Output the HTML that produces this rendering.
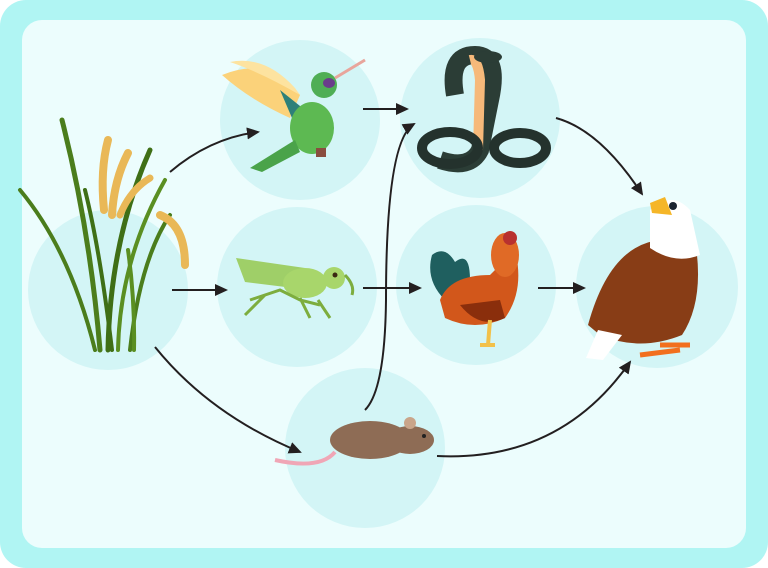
<!DOCTYPE html>
<html><head><meta charset="utf-8"><style>
html,body{margin:0;padding:0;background:#fff}
svg{display:block}
</style></head><body>
<svg width="768" height="568" viewBox="0 0 768 568" xmlns="http://www.w3.org/2000/svg">
<defs>
<marker id="ah" markerWidth="14" markerHeight="14" refX="11" refY="6" orient="auto" markerUnits="userSpaceOnUse">
<path d="M0,0 L13,6 L0,12 Z" fill="#231f20"/>
</marker>
</defs>
<rect x="0" y="0" width="768" height="568" rx="26" fill="#b0f5f3"/>
<rect x="22" y="20" width="724" height="528" rx="20" fill="#ecfdfd"/>
<g fill="#d3f5f6">
<circle cx="108" cy="290" r="80"/>
<circle cx="300" cy="120" r="80"/>
<circle cx="297" cy="287" r="80"/>
<circle cx="480" cy="118" r="80"/>
<circle cx="476" cy="285" r="80"/>
<circle cx="365" cy="448" r="80"/>
<circle cx="657" cy="287" r="81"/>
</g>
<!-- rice -->
<g stroke-linecap="round" fill="none">
<path d="M100,350 Q90,230 62,120" stroke="#4b7d1c" stroke-width="5"/>
<path d="M108,350 Q110,240 150,150" stroke="#3f6f16" stroke-width="5"/>
<path d="M118,350 Q120,260 165,180" stroke="#5a8f22" stroke-width="4"/>
<path d="M95,350 Q70,250 20,190" stroke="#4b7d1c" stroke-width="4"/>
<path d="M130,350 Q140,260 170,215" stroke="#4b7d1c" stroke-width="4"/>
<path d="M112,350 Q100,250 85,190" stroke="#3f6f16" stroke-width="4"/>
<path d="M134,350 Q135,300 128,250" stroke="#5a8f22" stroke-width="4"/>
<path d="M104,210 Q100,170 108,140" stroke="#e9b857" stroke-width="8"/>
<path d="M112,215 Q114,180 128,153" stroke="#e9b857" stroke-width="8"/>
<path d="M120,215 Q130,190 150,178" stroke="#e9b857" stroke-width="7"/>
<path d="M160,215 Q185,225 185,265" stroke="#e9b857" stroke-width="8"/>
</g>
<!-- hummingbird -->
<path d="M222,75 Q270,55 300,95 L290,118 Q250,100 222,75Z" fill="#fbd27a"/>
<path d="M230,62 Q265,55 295,88 L300,95 Q260,72 230,62Z" fill="#fde3a0"/>
<path d="M280,90 L305,110 L295,125 Z" fill="#2e8079"/>
<ellipse cx="312" cy="128" rx="22" ry="26" fill="#5db952"/>
<path d="M295,140 L250,168 L262,172 L300,152Z" fill="#4aa34a"/>
<circle cx="324" cy="85" r="13" fill="#4fae55"/>
<ellipse cx="329" cy="83" rx="6" ry="5" fill="#6a3c8b"/>
<path d="M335,78 L365,60" stroke="#e8a59c" stroke-width="3"/>
<rect x="316" y="148" width="10" height="9" fill="#8a4d3f"/>
<!-- grasshopper -->
<path d="M236,258 L305,268 L310,290 L245,282 Z" fill="#9fcf68"/>
<ellipse cx="305" cy="283" rx="22" ry="15" fill="#a8d66b"/>
<circle cx="334" cy="278" r="11" fill="#a8d66b"/>
<circle cx="335" cy="275" r="2.5" fill="#3a2a12"/>
<path d="M250,300 L280,290 L300,300 L320,305 M265,295 L245,315 M300,298 L310,318 M318,300 L330,318 M345,275 Q355,285 352,295" stroke="#7dad3e" stroke-width="3" fill="none"/>
<!-- snake -->
<path d="M455,95 Q448,55 475,55 Q500,55 490,100 L480,150 Q470,170 440,160" stroke="#2b3d36" stroke-width="18" fill="none"/>
<path d="M470,60 Q478,58 480,80 L478,150" stroke="#f6b97a" stroke-width="10" fill="none"/>
<ellipse cx="450" cy="148" rx="28" ry="16" fill="none" stroke="#24322d" stroke-width="10"/>
<ellipse cx="520" cy="148" rx="26" ry="15" fill="none" stroke="#24322d" stroke-width="10"/>
<ellipse cx="488" cy="57" rx="14" ry="6" fill="#2b3d36"/>
<!-- rooster -->
<path d="M445,300 Q425,280 432,255 Q445,245 455,262 Q470,250 470,280 Z" fill="#1f5f5f"/>
<path d="M440,300 Q450,275 490,275 L515,250 Q525,290 505,318 Q475,332 445,318Z" fill="#d2571b"/>
<path d="M460,305 Q480,330 505,318 L500,300Z" fill="#8a2e0c"/>
<ellipse cx="505" cy="255" rx="14" ry="22" fill="#e06a26"/>
<circle cx="510" cy="238" r="7" fill="#b8312f"/>
<path d="M490,320 L488,345 M495,345 L480,345" stroke="#f2c14a" stroke-width="4"/>
<!-- mouse -->
<ellipse cx="370" cy="440" rx="40" ry="19" fill="#8e6c55"/>
<ellipse cx="410" cy="440" rx="24" ry="14" fill="#8e6c55"/>
<circle cx="410" cy="423" r="6" fill="#c9a58a"/>
<circle cx="424" cy="436" r="2" fill="#222"/>
<path d="M335,452 Q320,470 275,460" stroke="#f0a6b6" stroke-width="4" fill="none"/>
<!-- eagle -->
<path d="M588,325 Q610,245 660,240 L695,240 Q705,300 682,335 Q640,352 600,335Z" fill="#883d16"/>
<path d="M598,330 L586,358 L603,360 L622,335Z" fill="#ffffff"/>
<path d="M650,210 Q672,190 690,210 L700,255 Q675,265 650,248Z" fill="#ffffff"/>
<path d="M650,203 L665,197 L672,215 L652,213Z" fill="#f5b628"/>
<circle cx="673" cy="206" r="4" fill="#1c2430"/>
<path d="M640,355 L680,350 M660,345 L690,345" stroke="#f26f1e" stroke-width="5"/>
<!-- arrows -->
<g stroke="#231f20" stroke-width="2" fill="none" marker-end="url(#ah)">
<path d="M170,172 Q210,138 258,132"/>
<path d="M172,290 L226,290"/>
<path d="M155,347 Q210,415 300,452"/>
<path d="M363,109 L407,109"/>
<path d="M363,288 L420,288"/>
<path d="M365,410 Q385,390 386,300 Q386,140 414,124"/>
<path d="M556,118 Q600,130 642,194"/>
<path d="M538,288 L584,288"/>
<path d="M437,456 Q560,462 630,362"/>
</g>
</svg>
</body></html>
